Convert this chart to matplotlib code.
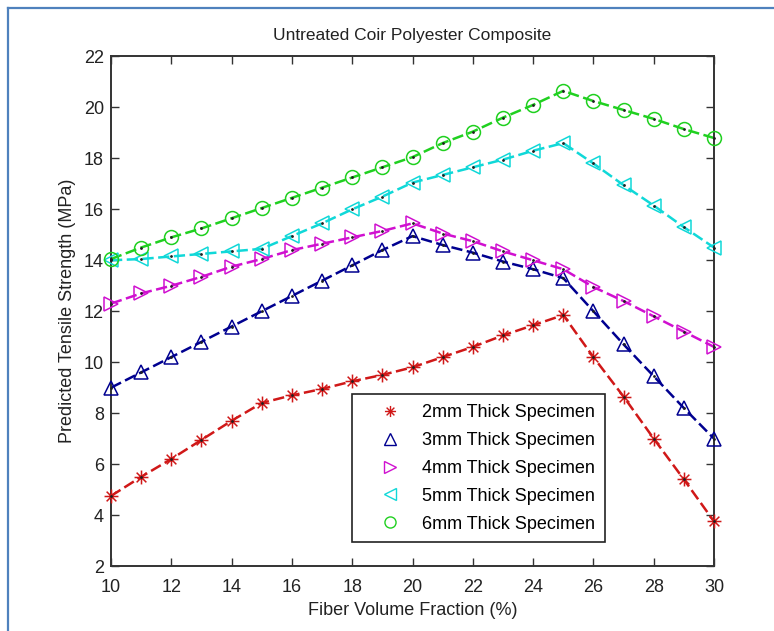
import numpy as np
import matplotlib
matplotlib.use('Agg')
import matplotlib.pyplot as plt
from matplotlib.path import Path
from matplotlib.lines import Line2D

plt.rcParams['font.family'] = ['Liberation Sans', 'DejaVu Sans']

# Fiber volume fraction (%) and predicted tensile strength (MPa) per thickness
fiber_fraction = list(range(10, 31))

strength_2mm = [4.75, 5.5, 6.2, 6.95, 7.7, 8.4, 8.7, 8.95, 9.25, 9.5, 9.8,
                10.2, 10.6, 11.05, 11.45, 11.85, 10.2, 8.65, 7.0, 5.4, 3.75]
strength_3mm = [9.0, 9.6, 10.2, 10.8, 11.4, 12.0, 12.6, 13.2, 13.8, 14.4, 14.95,
                14.6, 14.3, 13.95, 13.65, 13.3, 12.0, 10.7, 9.45, 8.2, 7.0]
strength_4mm = [12.3, 12.7, 13.0, 13.35, 13.75, 14.05, 14.4, 14.65, 14.9, 15.15, 15.45,
                15.05, 14.75, 14.35, 14.0, 13.65, 12.95, 12.4, 11.8, 11.2, 10.6]
strength_5mm = [14.0, 14.05, 14.15, 14.25, 14.35, 14.45, 14.95, 15.45, 16.0, 16.5, 17.05,
                17.35, 17.65, 17.95, 18.3, 18.6, 17.8, 16.95, 16.15, 15.3, 14.5]
strength_6mm = [14.05, 14.5, 14.9, 15.25, 15.65, 16.05, 16.45, 16.85, 17.25, 17.65, 18.05,
                18.6, 19.05, 19.6, 20.1, 20.65, 20.25, 19.9, 19.55, 19.15, 18.8]

labels = ['2mm Thick Specimen', '3mm Thick Specimen', '4mm Thick Specimen',
          '5mm Thick Specimen', '6mm Thick Specimen']
x_ticks = list(range(10, 31, 2))
y_ticks = list(range(2, 23, 2))

# asterisk marker built from plain strokes (+ overlaid with x)
asterisk = Path([(-1, 0), (1, 0), (0, -1), (0, 1),
                 (-0.7, -0.7), (0.7, 0.7), (-0.7, 0.7), (0.7, -0.7)],
                [Path.MOVETO, Path.LINETO] * 4)

series = [
    (strength_2mm, '#d01818', asterisk),
    (strength_3mm, '#000090', '^'),
    (strength_4mm, '#d010d0', '>'),
    (strength_5mm, '#10d8d8', '<'),
    (strength_6mm, '#20d020', 'o'),
]

fig = plt.figure(figsize=(7.74, 6.31), dpi=100)
ax = fig.add_axes([0.1434, 0.1030, 0.7791, 0.8075])

handles = []
for (vals, color, marker), label in zip(series, labels):
    ax.plot(fiber_fraction, vals, color=color, lw=1.8, ls='--', dashes=(4.5, 1.8), zorder=2)
    ax.plot(fiber_fraction, vals, ls='none', marker=marker, ms=10, mfc='none',
            mec=color, mew=1.1, zorder=3, clip_on=False)
    ax.plot(fiber_fraction, vals, ls='none', marker='.', ms=2, color='#202020',
            zorder=4, clip_on=False)
    handles.append(Line2D([], [], ls='none', marker=marker, ms=8, mfc='none',
                          mec=color, mew=1.0, label=label))

ax.set_xlim(10, 30)
ax.set_ylim(2, 22)
ax.set_xticks(x_ticks)
ax.set_yticks(y_ticks)
ax.tick_params(direction='in', length=6, width=1.0, top=True, right=True,
               labelsize=13, colors='#333333', labelcolor='#222222', pad=5)
ax.tick_params(axis='x', pad=9)
for sp in ax.spines.values():
    sp.set_color('#333333')
    sp.set_linewidth(1.4)

ax.set_title('Untreated Coir Polyester Composite', fontsize=12.5, color='#222222', pad=12)
ax.set_xlabel('Fiber Volume Fraction (%)', fontsize=13, color='#222222', labelpad=5)
ax.set_ylabel('Predicted Tensile Strength (MPa)', fontsize=13, color='#222222', labelpad=6)

leg = ax.legend(handles=handles, loc='upper left', bbox_to_anchor=(0.399, 0.337),
                borderaxespad=0, fontsize=13, fancybox=False, framealpha=1,
                edgecolor='#222222', handlelength=3.2, handletextpad=0.15,
                labelspacing=0.6, borderpad=0.55)
leg.get_frame().set_linewidth(1.2)

# thin blue page frame on the left and top edges
fig.add_artist(Line2D([7.5 / 774, 7.5 / 774], [0, 1 - 7.5 / 631],
                      transform=fig.transFigure, color='#4f81bd', lw=1.6))
fig.add_artist(Line2D([7.5 / 774, 1], [1 - 7.5 / 631, 1 - 7.5 / 631],
                      transform=fig.transFigure, color='#4f81bd', lw=1.6))

fig.savefig('out.png', dpi=100)
